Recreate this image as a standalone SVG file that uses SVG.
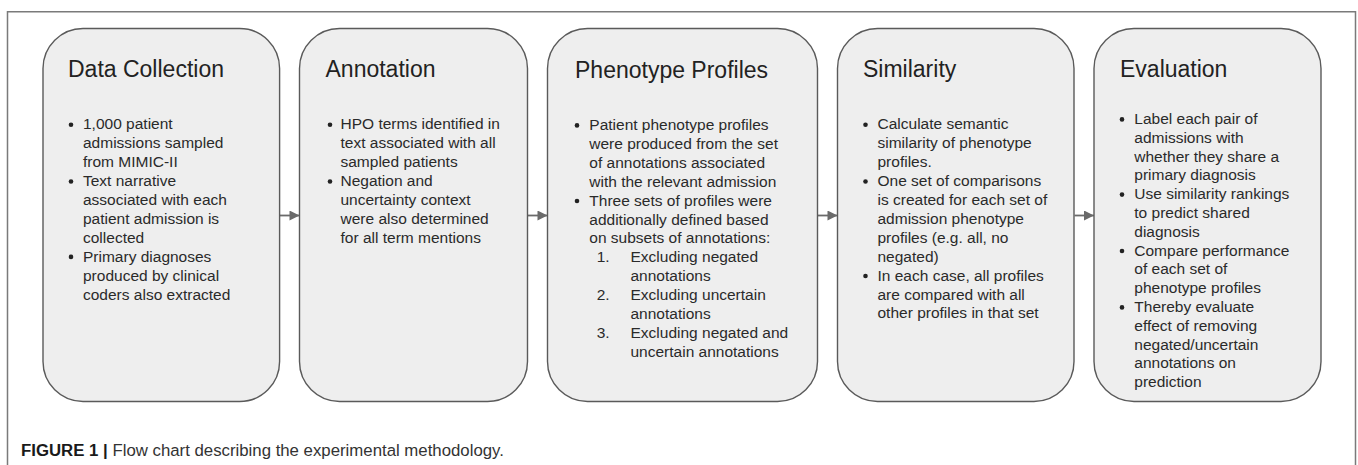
<svg xmlns="http://www.w3.org/2000/svg" width="1358" height="465" viewBox="0 0 1358 465">
<defs>
<style>
.frame{fill:none;stroke:#7a7a7a;stroke-width:1.5}
.box{fill:#eeeeee;stroke:#5a5a5a;stroke-width:1.4}
.title{font-family:"Liberation Sans",Arial,sans-serif;font-size:23px;fill:#222}
.body{font-family:"Liberation Sans",Arial,sans-serif;font-size:15.5px;fill:#2a2a2a}
.dot{fill:#222}
.conn{stroke:#6a6a6a;stroke-width:1.8;fill:none}
.cap{font-family:"Liberation Sans",Arial,sans-serif;font-size:16.8px;fill:#333}
</style>
<marker id="ah" viewBox="0 0 10 10" refX="10" refY="5" markerWidth="13" markerHeight="10" markerUnits="userSpaceOnUse" orient="auto">
<path d="M0,0 L10,5 L0,10 Z" fill="#6a6a6a"/>
</marker>
</defs>
<rect width="1358" height="465" fill="#ffffff"/>
<path class="frame" d="M7.5,466 V11.75 H1355.5 V466"/>

<g id="connectors">
<line class="conn" x1="280" y1="215.5" x2="299.5" y2="215.5" marker-end="url(#ah)"/>
<line class="conn" x1="527.5" y1="215.5" x2="547.5" y2="215.5" marker-end="url(#ah)"/>
<line class="conn" x1="817.5" y1="215.5" x2="837.5" y2="215.5" marker-end="url(#ah)"/>
<line class="conn" x1="1074.5" y1="215.5" x2="1094" y2="215.5" marker-end="url(#ah)"/>
</g>

<g id="data-collection">
<rect class="box" x="43" y="28.5" width="236.6" height="373" rx="40" ry="40"/>
<text class="title" x="68" y="76.7">Data Collection</text>
<circle class="dot" cx="71" cy="124.8" r="2.3"/>
<circle class="dot" cx="71" cy="181.5" r="2.3"/>
<circle class="dot" cx="71" cy="256.9" r="2.3"/>
<text class="body" x="83" y="129.4">1,000 patient<tspan x="83" dy="18.9">admissions sampled</tspan><tspan x="83" dy="18.9">from MIMIC-II</tspan><tspan x="83" dy="18.9">Text narrative</tspan><tspan x="83" dy="18.9">associated with each</tspan><tspan x="83" dy="18.9">patient admission is</tspan><tspan x="83" dy="18.9">collected</tspan><tspan x="83" dy="18.9">Primary diagnoses</tspan><tspan x="83" dy="18.9">produced by clinical</tspan><tspan x="83" dy="18.9">coders also extracted</tspan></text>
</g>

<g id="annotation">
<rect class="box" x="299.5" y="28.5" width="228" height="373" rx="40" ry="40"/>
<text class="title" x="325.5" y="76.7">Annotation</text>
<circle class="dot" cx="330" cy="124.8" r="2.3"/>
<circle class="dot" cx="330" cy="181.5" r="2.3"/>
<text class="body" x="340.5" y="129.4">HPO terms identified in<tspan x="340.5" dy="18.9">text associated with all</tspan><tspan x="340.5" dy="18.9">sampled patients</tspan><tspan x="340.5" dy="18.9">Negation and</tspan><tspan x="340.5" dy="18.9">uncertainty context</tspan><tspan x="340.5" dy="18.9">were also determined</tspan><tspan x="340.5" dy="18.9">for all term mentions</tspan></text>
</g>

<g id="phenotype-profiles">
<rect class="box" x="547.5" y="28.5" width="270" height="373" rx="40" ry="40"/>
<text class="title" x="575" y="77.5">Phenotype Profiles</text>
<circle class="dot" cx="577" cy="125.4" r="2.3"/>
<circle class="dot" cx="577" cy="201" r="2.3"/>
<text class="body" x="589.3" y="130">Patient phenotype profiles<tspan x="589.3" dy="18.9">were produced from the set</tspan><tspan x="589.3" dy="18.9">of annotations associated</tspan><tspan x="589.3" dy="18.9">with the relevant admission</tspan><tspan x="589.3" dy="18.9">Three sets of profiles were</tspan><tspan x="589.3" dy="18.9">additionally defined based</tspan><tspan x="589.3" dy="18.9">on subsets of annotations:</tspan></text>
<text class="body" x="596.7" y="262.3">1.<tspan x="596.7" dy="37.8">2.</tspan><tspan x="596.7" dy="37.8">3.</tspan></text>
<text class="body" x="630.5" y="262.3">Excluding negated<tspan x="630.5" dy="18.9">annotations</tspan><tspan x="630.5" dy="18.9">Excluding uncertain</tspan><tspan x="630.5" dy="18.9">annotations</tspan><tspan x="630.5" dy="18.9">Excluding negated and</tspan><tspan x="630.5" dy="18.9">uncertain annotations</tspan></text>
</g>

<g id="similarity">
<rect class="box" x="837.5" y="28.5" width="236.5" height="373" rx="40" ry="40"/>
<text class="title" x="863" y="76.7">Similarity</text>
<circle class="dot" cx="865.5" cy="124.8" r="2.3"/>
<circle class="dot" cx="865.5" cy="181.5" r="2.3"/>
<circle class="dot" cx="865.5" cy="276" r="2.3"/>
<text class="body" x="877.5" y="129.4">Calculate semantic<tspan x="877.5" dy="18.9">similarity of phenotype</tspan><tspan x="877.5" dy="18.9">profiles.</tspan><tspan x="877.5" dy="18.9">One set of comparisons</tspan><tspan x="877.5" dy="18.9">is created for each set of</tspan><tspan x="877.5" dy="18.9">admission phenotype</tspan><tspan x="877.5" dy="18.9">profiles (e.g. all, no</tspan><tspan x="877.5" dy="18.9">negated)</tspan><tspan x="877.5" dy="18.9">In each case, all profiles</tspan><tspan x="877.5" dy="18.9">are compared with all</tspan><tspan x="877.5" dy="18.9">other profiles in that set</tspan></text>
</g>

<g id="evaluation">
<rect class="box" x="1094" y="28.5" width="227" height="373" rx="40" ry="40"/>
<text class="title" x="1120" y="76.7">Evaluation</text>
<circle class="dot" cx="1122" cy="119.4" r="2.3"/>
<circle class="dot" cx="1122" cy="194.6" r="2.3"/>
<circle class="dot" cx="1122" cy="251" r="2.3"/>
<circle class="dot" cx="1122" cy="307.4" r="2.3"/>
<text class="body" x="1134.3" y="124">Label each pair of<tspan x="1134.3" dy="18.8">admissions with</tspan><tspan x="1134.3" dy="18.8">whether they share a</tspan><tspan x="1134.3" dy="18.8">primary diagnosis</tspan><tspan x="1134.3" dy="18.8">Use similarity rankings</tspan><tspan x="1134.3" dy="18.8">to predict shared</tspan><tspan x="1134.3" dy="18.8">diagnosis</tspan><tspan x="1134.3" dy="18.8">Compare performance</tspan><tspan x="1134.3" dy="18.8">of each set of</tspan><tspan x="1134.3" dy="18.8">phenotype profiles</tspan><tspan x="1134.3" dy="18.8">Thereby evaluate</tspan><tspan x="1134.3" dy="18.8">effect of removing</tspan><tspan x="1134.3" dy="18.8">negated/uncertain</tspan><tspan x="1134.3" dy="18.8">annotations on</tspan><tspan x="1134.3" dy="18.8">prediction</tspan></text>
</g>

<text class="cap" x="21" y="456"><tspan font-weight="bold" fill="#1a1a1a">FIGURE 1 |</tspan> Flow chart describing the experimental methodology.</text>
</svg>
